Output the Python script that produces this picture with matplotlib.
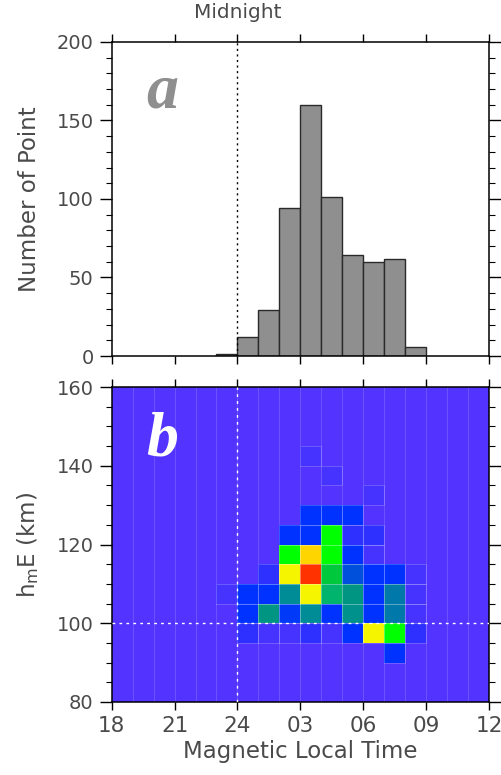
import numpy as np
import matplotlib
matplotlib.use("Agg")
import matplotlib.pyplot as plt
from matplotlib.colors import LinearSegmentedColormap
from matplotlib.ticker import MultipleLocator, NullLocator
from matplotlib.patches import Rectangle

# ---------------- data ----------------
hist_left_edges = [23, 24, 25, 26, 27, 28, 29, 30, 31, 32]   # hours (24 = midnight)
hist_counts = [1, 12, 29, 94, 160, 101, 64, 60, 62, 6]

heat_hours = [23, 24, 25, 26, 27, 28, 29, 30, 31, 32]        # column lower edges
heat_heights = [140, 135, 130, 125, 120, 115, 110, 105, 100, 95, 90]  # row lower edges
heat_counts = [
    [0, 0, 0, 0, 1, 0, 0, 0, 0, 0],
    [0, 0, 0, 0, 0, 1, 0, 0, 0, 0],
    [0, 0, 0, 0, 0, 0, 0, 1, 0, 0],
    [0, 0, 0, 0, 4, 4, 4, 0, 0, 0],
    [0, 0, 0, 4, 4, 32, 2, 2, 0, 0],
    [0, 0, 0, 32, 50, 32, 4, 1, 0, 0],
    [0, 0, 2, 44, 60, 25, 8, 4, 4, 1],
    [1, 4, 4, 16, 44, 20, 18, 4, 12, 1],
    [0, 4, 18, 5, 16, 4, 17, 4, 12, 1],
    [0, 2, 1, 1, 2, 1, 4, 44, 32, 2],
    [0, 0, 0, 0, 0, 0, 0, 0, 4, 0],
]

x_ticks = [18, 21, 24, 27, 30, 33, 36]
x_ticklabels = ["18", "21", "24", "03", "06", "09", "12"]

# ---------------- style ----------------
FONT = "DejaVu Sans"
TXT = "#4a4a4a"
plt.rcParams["font.family"] = [FONT]

fig = plt.figure(figsize=(5.02, 7.75), dpi=100)
L, R = 0.2225, 0.974
ax1 = fig.add_axes([L, 0.5406, R - L, 0.946 - 0.5406])
ax2 = fig.add_axes([L, 0.0942, R - L, 0.5006 - 0.0942])

def style(ax):
    for s in ax.spines.values():
        s.set_linewidth(1.1)
    ax.tick_params(axis="both", which="both", direction="out", top=True, right=True,
                   colors="black", labelcolor=TXT)
    ax.tick_params(axis="y", which="major", length=9, width=1, labelsize=14, pad=4)
    ax.tick_params(axis="y", which="minor", length=4, width=0.8)
    ax.tick_params(axis="x", which="major", length=6, width=1, labelsize=15.5, pad=4)
    ax.set_xlim(18, 36)
    ax.set_xticks(x_ticks)
    ax.xaxis.set_minor_locator(NullLocator())

# ---------- panel a ----------
ax1.bar(hist_left_edges, hist_counts, width=1.0, align="edge",
        color="#8f8f8f", edgecolor="#2a2a2a", linewidth=1.0, zorder=2)
ax1.axvline(24, color="black", linestyle=(0, (1.5, 2.5)), linewidth=1, zorder=3)
style(ax1)
ax1.set_ylim(0, 200)
ax1.yaxis.set_major_locator(MultipleLocator(50))
ax1.yaxis.set_minor_locator(MultipleLocator(10))
ax1.set_xticklabels([])
ax1.set_ylabel("Number of Point", fontsize=16.5, color=TXT, labelpad=11)
ax1.text(0.135, 0.84, "a", transform=ax1.transAxes, fontsize=46, color="#8f8f8f",
         fontweight="bold", fontstyle="italic", family="Liberation Serif",
         ha="center", va="center")
ax1.text(24, 1.095, "Midnight", transform=ax1.get_xaxis_transform(), fontsize=14.5,
         color=TXT, ha="center", va="center")

# ---------- panel b ----------
x_edges = np.arange(18, 37, 1)
y_edges = np.arange(80, 165, 5)
grid = np.zeros((len(y_edges) - 1, len(x_edges) - 1))
for ri, h in enumerate(heat_heights):
    for ci, hr in enumerate(heat_hours):
        grid[int((h - 80) / 5), int(hr - 18)] = heat_counts[ri][ci]

bg = "#5233ff"
cmap = LinearSegmentedColormap.from_list("idl", [
    (0.0, bg),
    (1 / 60, "#4533ff"),
    (2 / 60, "#2a30ff"),
    (4 / 60, "#0032ff"),
    (8 / 60, "#0050dc"),
    (12 / 60, "#0078aa"),
    (16 / 60, "#008c96"),
    (18 / 60, "#009682"),
    (20 / 60, "#00b46e"),
    (25 / 60, "#00c83c"),
    (32 / 60, "#00ff00"),
    (44 / 60, "#f5f500"),
    (50 / 60, "#ffd700"),
    (1.0, "#ff3200"),
])
ax2.set_facecolor(bg)
ax2.vlines(x_edges[1:-1], 80, 160, color=(1, 1, 1, 0.15), linewidth=0.8, zorder=0.5)
masked = np.ma.masked_equal(grid, 0)
ax2.pcolormesh(x_edges, y_edges, masked, cmap=cmap, vmin=0, vmax=60,
               edgecolors="none", zorder=1)
for iy in range(grid.shape[0]):
    for ix in range(grid.shape[1]):
        if grid[iy, ix] > 0:
            ax2.add_patch(Rectangle((x_edges[ix], y_edges[iy]), 1, 5, facecolor="none",
                                    edgecolor=(1, 1, 1, 0.2), linewidth=0.7, zorder=1.5))
ax2.axvline(24, color="white", linestyle=(0, (2, 3)), linewidth=1, zorder=3)
ax2.axhline(100, color="white", linestyle=(0, (2, 3)), linewidth=1, zorder=3)
style(ax2)
ax2.set_ylim(80, 160)
ax2.yaxis.set_major_locator(MultipleLocator(20))
ax2.yaxis.set_minor_locator(MultipleLocator(5))
ax2.set_xticklabels(x_ticklabels)
ax2.set_ylabel(r"h$\mathregular{_m}$E (km)", fontsize=16.5, color=TXT, labelpad=11)
ax2.set_xlabel("Magnetic Local Time", fontsize=16.5, color=TXT, labelpad=3)
ax2.text(0.135, 0.83, "b", transform=ax2.transAxes, fontsize=46, color="white",
         fontweight="bold", fontstyle="italic", family="Liberation Serif",
         ha="center", va="center")

fig.savefig("out.png", dpi=100)
